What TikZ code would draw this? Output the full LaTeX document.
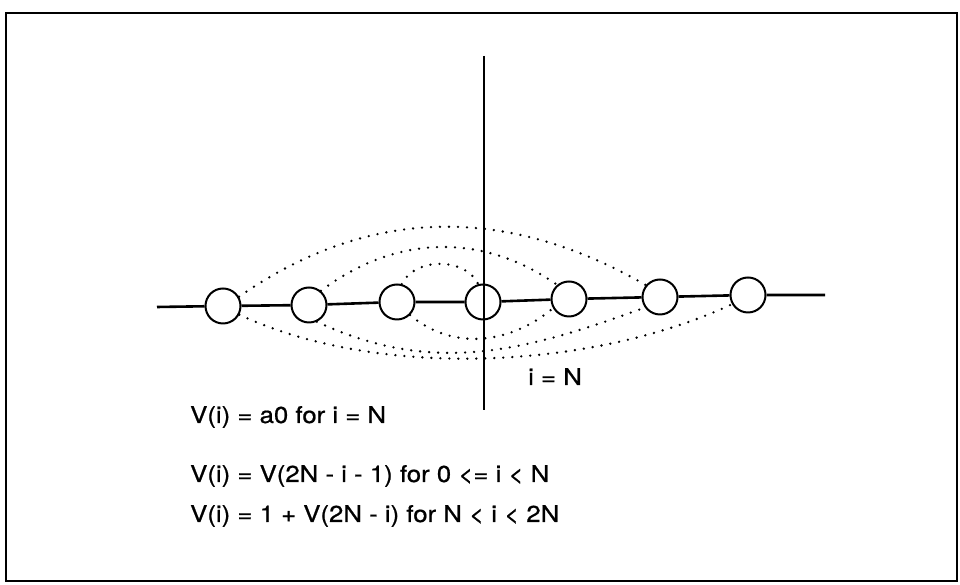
\documentclass[tikz,border=0pt]{standalone}
\usepackage{fontspec}
\setmainfont{TeX Gyre Heros}[FakeStretch=1.12,FakeBold=0.8]
\usetikzlibrary{positioning}
\tikzset{
  kor/.style={circle,draw,line width=2pt,minimum size=35pt,inner sep=0pt},
  pontoz/.style={line width=2.6pt,line cap=round,dash pattern=on 0pt off 9pt},
  keret/.style={draw,line width=2.8pt},
  tengely/.style={line width=2.6pt},
  felirat/.style={anchor=base west,inner sep=0pt,font=\fontsize{23}{27}\selectfont},
}
\begin{document}
\begin{tikzpicture}[x=1pt,y=1pt]
  \useasboundingbox (0,0) rectangle (960,585);
  \draw[keret] (6,4) rectangle (957,572);
  % korok a tengelyen
  \foreach \n/\x/\y in {0/223/279, 1/309/280, 2/397/283, 3/483/283, 4/569/286, 5/660/288, 6/748/290}
    \node[kor] (c\n) at (\x,\y) {};
  \coordinate (bal) at (157,278);
  \coordinate (jobb) at (825,290);
  \draw[tengely] (bal) -- (c0) -- (c1) -- (c2) -- (c3) -- (c4) -- (c5) -- (c6) -- (jobb);
  \coordinate (fent) at (484,529);
  \coordinate (lent) at (484,175);
  \draw[line width=1.4pt] (fent) -- (lent);
  % felso ivek
  \draw[pontoz] (c2.75) to[out=65,in=115] (c3.105);
  \draw[pontoz] (c1.50) to[out=37,in=145] (c4.130);
  \draw[pontoz] (c0.30) to[out=35,in=150] (c5.140);
  % also ivek
  \draw[pontoz] (c2.-45) to[out=-40,in=-140] (c4.-150);
  \draw[pontoz] (c1.-65) to[out=-25,in=-160] (c5.-145);
  \draw[pontoz] (c0.-28) to[out=-25,in=-155,looseness=0.8] (c6.-150);
  \node[felirat] (iN) at (528,200) {i = N};
  \node[felirat] (v1) at (190,162) {V(i) = a0 for i = N};
  \node[felirat] (v2) at (190,103) {V(i) = V(2N - i - 1) for 0 <= i < N};
  \node[felirat] (v3) at (190,63) {V(i) = 1 + V(2N - i) for N < i < 2N};
\end{tikzpicture}
\end{document}
